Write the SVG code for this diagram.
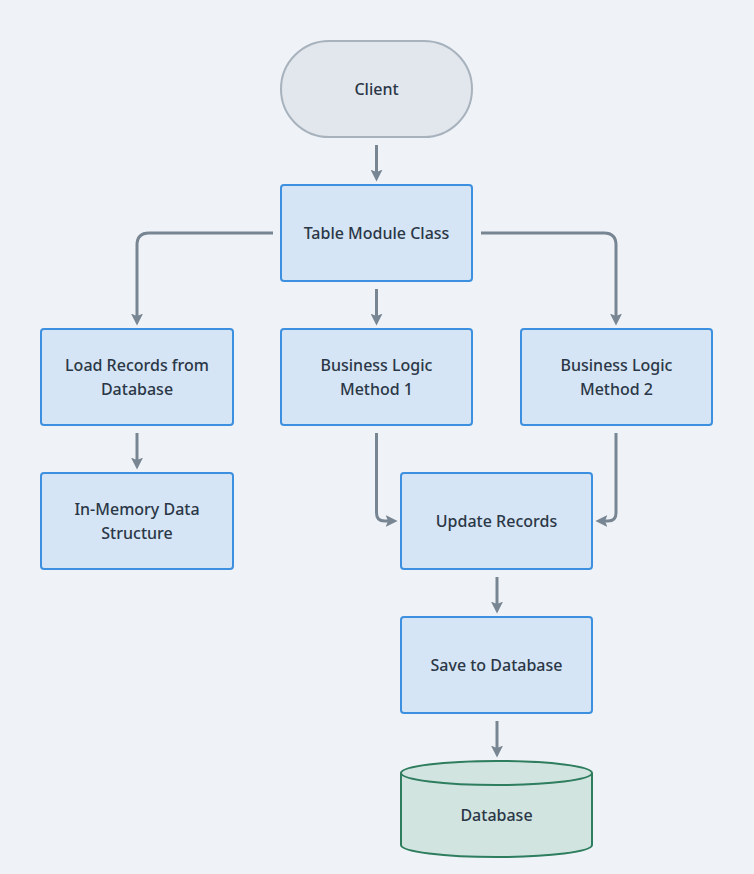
<svg xmlns="http://www.w3.org/2000/svg" width="754" height="874" viewBox="0 0 754 874">
<defs>
<style>
.box{fill:#d5e5f5;stroke:#3d8fe0;stroke-width:2}
.term{fill:#e2e6ed;stroke:#a7b2bd;stroke-width:2}
.db{fill:#d1e4e0;stroke:#2e7d5e;stroke-width:2}
.lbl{font-family:"Noto Sans","DejaVu Sans",sans-serif;font-size:16px;font-weight:500;fill:#2b3746;text-anchor:middle;dominant-baseline:central}
.edge{fill:none;stroke:#788593;stroke-width:3;stroke-linejoin:round}
</style>
<marker id="ah" viewBox="0 0 10 10" refX="2" refY="5" markerWidth="4" markerHeight="4" markerUnits="strokeWidth" orient="auto">
<path d="M0,0 L10,5 L0,10 L2,5 Z" fill="#788593"/>
</marker>
</defs>
<rect width="754" height="874" fill="#eff3f7"/>
<g id="connectors">
<path class="edge" marker-end="url(#ah)" d="M376.5,145 V172"/>
<path class="edge" marker-end="url(#ah)" d="M273,233 H149 Q137,233 137,245 V316"/>
<path class="edge" marker-end="url(#ah)" d="M376.5,289 V316"/>
<path class="edge" marker-end="url(#ah)" d="M481,233 H604 Q616,233 616,245 V316"/>
<path class="edge" marker-end="url(#ah)" d="M137,433 V460"/>
<path class="edge" marker-end="url(#ah)" d="M376.5,433 V513 Q376.5,521 384.5,521 H388"/>
<path class="edge" marker-end="url(#ah)" d="M616,433 V513 Q616,521 608,521 H605"/>
<path class="edge" marker-end="url(#ah)" d="M497,577 V604"/>
<path class="edge" marker-end="url(#ah)" d="M497,721 V748"/>
</g>
<g id="client">
<rect class="term" x="281" y="41" width="191" height="96" rx="48" ry="48"/>
<text class="lbl" x="376.5" y="89">Client</text>
</g>
<g id="table-module">
<rect class="box" x="281" y="185" width="191" height="96" rx="3"/>
<text class="lbl" x="376.5" y="233">Table Module Class</text>
</g>
<g id="load-records">
<rect class="box" x="41" y="329" width="192" height="96" rx="3"/>
<text class="lbl" x="137" y="365">Load Records from</text>
<text class="lbl" x="137" y="389">Database</text>
</g>
<g id="bl1">
<rect class="box" x="281" y="329" width="191" height="96" rx="3"/>
<text class="lbl" x="376.5" y="365">Business Logic</text>
<text class="lbl" x="376.5" y="389">Method 1</text>
</g>
<g id="bl2">
<rect class="box" x="521" y="329" width="191" height="96" rx="3"/>
<text class="lbl" x="616.5" y="365">Business Logic</text>
<text class="lbl" x="616.5" y="389">Method 2</text>
</g>
<g id="in-memory">
<rect class="box" x="41" y="473" width="192" height="96" rx="3"/>
<text class="lbl" x="137" y="509">In-Memory Data</text>
<text class="lbl" x="137" y="533">Structure</text>
</g>
<g id="update-records">
<rect class="box" x="401" y="473" width="191" height="96" rx="3"/>
<text class="lbl" x="496.5" y="521">Update Records</text>
</g>
<g id="save-db">
<rect class="box" x="401" y="617" width="191" height="96" rx="3"/>
<text class="lbl" x="496.5" y="665">Save to Database</text>
</g>
<g id="database">
<path class="db" d="M401,773 A95.5,12 0 0 1 592,773 V845 A95.5,12 0 0 1 401,845 Z"/>
<path class="db" d="M401,773 A95.5,12 0 0 0 592,773" fill="none"/>
<text class="lbl" x="496.5" y="815">Database</text>
</g>
</svg>
